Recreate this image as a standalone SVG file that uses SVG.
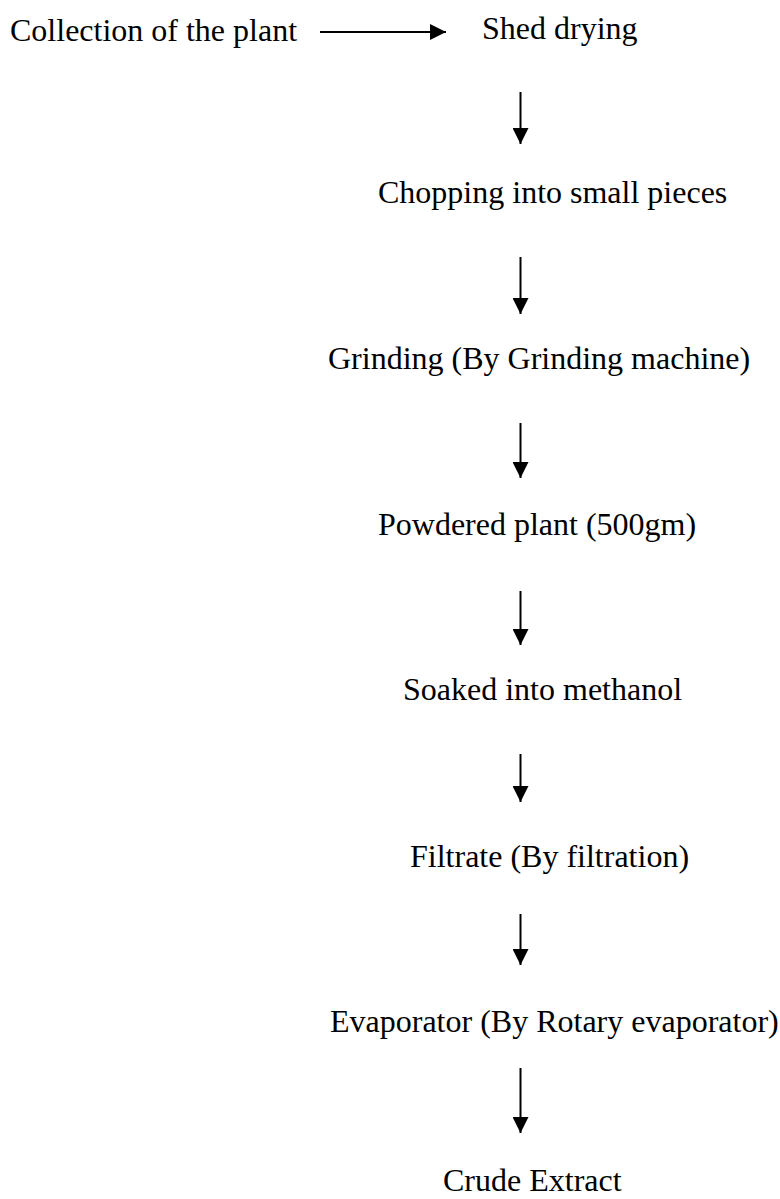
<svg xmlns="http://www.w3.org/2000/svg" width="780" height="1199" viewBox="0 0 780 1199">
<defs>
<style>
text { font-family: "Liberation Serif", "Times New Roman", serif; font-size: 32px; fill: #000; }
.conn line { stroke: #000; stroke-width: 2; }
</style>
<marker id="ah" viewBox="0 0 16 16" refX="16" refY="8" markerWidth="16" markerHeight="16" markerUnits="userSpaceOnUse" orient="auto">
<path d="M0,0 L16,8 L0,16 Z" fill="#000"/>
</marker>
</defs>
<rect width="780" height="1199" fill="#fff"/>
<g id="n1"><text x="10" y="41">Collection of the plant</text></g>
<g id="n2"><text x="482" y="39">Shed drying</text></g>
<g id="n3"><text x="378" y="203">Chopping into small pieces</text></g>
<g id="n4"><text x="328" y="369">Grinding (By Grinding machine)</text></g>
<g id="n5"><text x="378" y="535">Powdered plant (500gm)</text></g>
<g id="n6"><text x="403" y="700">Soaked into methanol</text></g>
<g id="n7"><text x="410" y="867">Filtrate (By filtration)</text></g>
<g id="n8"><text x="330" y="1032">Evaporator (By Rotary evaporator)</text></g>
<g id="n9"><text x="443" y="1191">Crude Extract</text></g>
<g class="conn" id="connectors">
<line x1="320" y1="32" x2="446" y2="32" marker-end="url(#ah)"/>
<line x1="520.5" y1="92" x2="520.5" y2="144" marker-end="url(#ah)"/>
<line x1="520.5" y1="257" x2="520.5" y2="314" marker-end="url(#ah)"/>
<line x1="520.5" y1="423" x2="520.5" y2="478" marker-end="url(#ah)"/>
<line x1="520.5" y1="591" x2="520.5" y2="645" marker-end="url(#ah)"/>
<line x1="520.5" y1="754" x2="520.5" y2="802" marker-end="url(#ah)"/>
<line x1="520.5" y1="914" x2="520.5" y2="965" marker-end="url(#ah)"/>
<line x1="520.5" y1="1068" x2="520.5" y2="1133" marker-end="url(#ah)"/>
</g>
</svg>
